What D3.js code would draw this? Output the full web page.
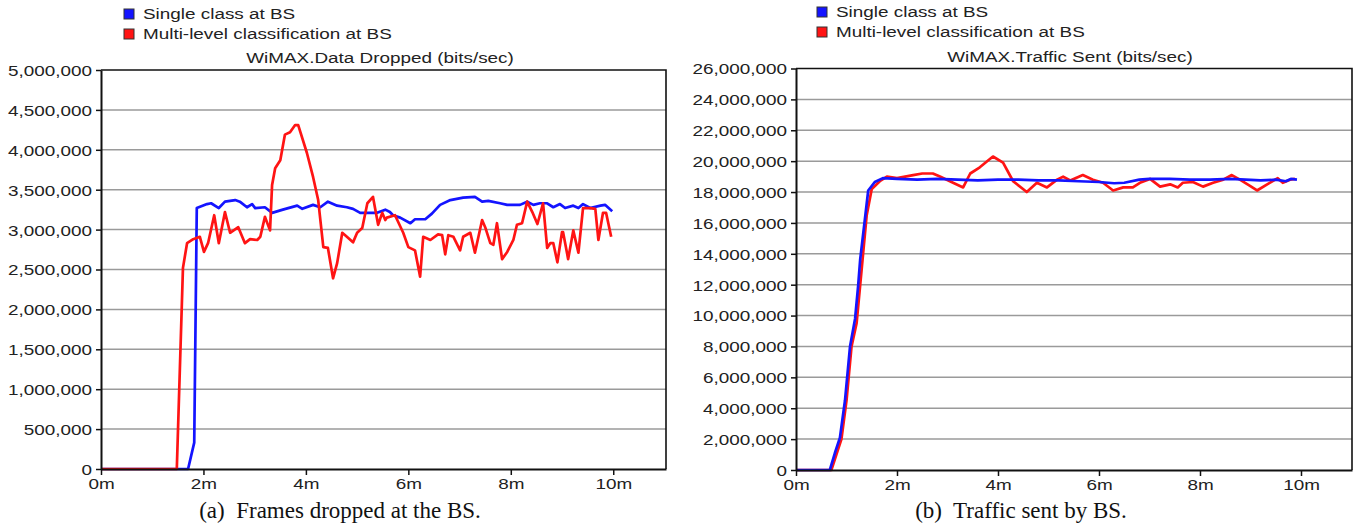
<!DOCTYPE html>
<html><head><meta charset="utf-8">
<script src="https://cdn.jsdelivr.net/npm/d3@7"></script>
<style>body{margin:0;background:#fff} svg{display:block}</style>
</head><body><svg id="c" width="1358" height="529"></svg>
<script>
// ---------- data ----------
const seriesNames = ["Single class at BS", "Multi-level classification at BS"];
const seriesColors = ["#1414ff", "#ff1414"];
const xTickValues = [0, 2, 4, 6, 8, 10];
const xTickLabels = ["0m", "2m", "4m", "6m", "8m", "10m"];

const droppedTicks = [0, 500000, 1000000, 1500000, 2000000, 2500000, 3000000, 3500000, 4000000, 4500000, 5000000];
const sentTicks = [0, 2000000, 4000000, 6000000, 8000000, 10000000, 12000000, 14000000, 16000000, 18000000, 20000000, 22000000, 24000000, 26000000];

// [minutes, bits/sec]
const droppedSingle = [[0,0],[1.70,0],[1.82,0.33e6],[1.87,3.27e6],[2.07,3.32e6],[2.15,3.33e6],[2.30,3.27e6],[2.42,3.35e6],[2.52,3.36e6],[2.62,3.37e6],[2.71,3.35e6],[2.85,3.28e6],[2.95,3.32e6],[3.01,3.27e6],[3.20,3.28e6],[3.34,3.21e6],[3.55,3.25e6],[3.83,3.30e6],[3.93,3.26e6],[4.14,3.31e6],[4.28,3.28e6],[4.43,3.35e6],[4.61,3.30e6],[4.80,3.28e6],[4.92,3.26e6],[5.06,3.21e6],[5.39,3.21e6],[5.55,3.25e6],[5.64,3.22e6],[5.70,3.18e6],[5.84,3.15e6],[6.04,3.08e6],[6.13,3.13e6],[6.33,3.13e6],[6.46,3.20e6],[6.62,3.31e6],[6.82,3.37e6],[7.07,3.40e6],[7.30,3.41e6],[7.44,3.35e6],[7.56,3.36e6],[7.79,3.33e6],[7.93,3.31e6],[8.18,3.31e6],[8.32,3.35e6],[8.44,3.31e6],[8.57,3.33e6],[8.71,3.33e6],[8.83,3.28e6],[8.96,3.32e6],[9.06,3.27e6],[9.22,3.30e6],[9.32,3.27e6],[9.41,3.32e6],[9.55,3.27e6],[9.75,3.30e6],[9.84,3.31e6],[9.98,3.23e6]];

const droppedMulti = [[0,0],[1.48,0],[1.60,2.52e6],[1.68,2.83e6],[1.80,2.88e6],[1.93,2.91e6],[2.01,2.72e6],[2.09,2.83e6],[2.21,3.18e6],[2.30,2.83e6],[2.42,3.22e6],[2.52,2.96e6],[2.68,3.03e6],[2.81,2.83e6],[2.91,2.88e6],[3.05,2.87e6],[3.11,2.91e6],[3.20,3.16e6],[3.30,2.99e6],[3.34,3.56e6],[3.40,3.77e6],[3.50,3.87e6],[3.59,4.19e6],[3.69,4.22e6],[3.79,4.31e6],[3.85,4.31e6],[4.02,3.96e6],[4.14,3.66e6],[4.24,3.37e6],[4.34,2.78e6],[4.43,2.77e6],[4.53,2.39e6],[4.61,2.58e6],[4.71,2.96e6],[4.80,2.91e6],[4.92,2.84e6],[5.00,2.96e6],[5.10,3.02e6],[5.20,3.33e6],[5.31,3.41e6],[5.41,3.06e6],[5.49,3.21e6],[5.55,3.12e6],[5.58,3.15e6],[5.74,3.18e6],[5.90,2.96e6],[6.00,2.78e6],[6.13,2.74e6],[6.23,2.41e6],[6.29,2.91e6],[6.43,2.87e6],[6.58,2.94e6],[6.66,2.93e6],[6.72,2.69e6],[6.78,2.93e6],[6.88,2.91e6],[7.01,2.74e6],[7.07,2.91e6],[7.21,2.96e6],[7.30,2.71e6],[7.44,3.12e6],[7.50,3.03e6],[7.60,2.83e6],[7.66,2.81e6],[7.73,3.08e6],[7.83,2.63e6],[7.93,2.72e6],[8.05,2.87e6],[8.12,3.06e6],[8.22,3.08e6],[8.32,3.35e6],[8.42,3.22e6],[8.52,3.07e6],[8.63,3.33e6],[8.71,2.77e6],[8.77,2.83e6],[8.83,2.83e6],[8.91,2.59e6],[9.00,2.97e6],[9.02,2.97e6],[9.12,2.63e6],[9.22,2.99e6],[9.32,2.71e6],[9.41,3.27e6],[9.55,3.27e6],[9.65,3.26e6],[9.71,2.87e6],[9.80,3.21e6],[9.86,3.21e6],[9.96,2.91e6]];

const sentSingle = [[0,0],[0.67,0],[0.77,1.1e6],[0.87,2.1e6],[0.97,4.5e6],[1.07,8.0e6],[1.17,9.8e6],[1.23,11.9e6],[1.27,13.6e6],[1.37,16.4e6],[1.43,18.1e6],[1.56,18.65e6],[1.72,18.9e6],[2.0,18.85e6],[2.4,18.8e6],[2.8,18.85e6],[3.2,18.8e6],[3.6,18.75e6],[4.0,18.8e6],[4.4,18.8e6],[4.8,18.75e6],[5.2,18.75e6],[5.6,18.7e6],[6.0,18.65e6],[6.3,18.57e6],[6.5,18.6e6],[6.8,18.8e6],[7.0,18.85e6],[7.4,18.85e6],[7.8,18.8e6],[8.2,18.8e6],[8.6,18.85e6],[8.9,18.8e6],[9.2,18.75e6],[9.5,18.8e6],[9.7,18.7e6],[9.8,18.85e6],[9.92,18.8e6]];

const sentMulti = [[0,0],[0.70,0],[0.80,1.0e6],[0.90,2.0e6],[1.00,4.5e6],[1.10,8.0e6],[1.20,9.5e6],[1.30,13.0e6],[1.40,16.5e6],[1.50,18.2e6],[1.66,18.7e6],[1.80,19.0e6],[2.0,18.9e6],[2.32,19.1e6],[2.5,19.2e6],[2.71,19.2e6],[2.85,19.0e6],[3.11,18.6e6],[3.31,18.3e6],[3.45,19.2e6],[3.64,19.6e6],[3.90,20.3e6],[4.10,19.9e6],[4.30,18.7e6],[4.57,18.0e6],[4.77,18.6e6],[4.97,18.3e6],[5.17,18.8e6],[5.29,19.0e6],[5.43,18.75e6],[5.68,19.1e6],[5.88,18.8e6],[6.08,18.6e6],[6.28,18.1e6],[6.48,18.3e6],[6.67,18.3e6],[6.81,18.6e6],[7.01,18.85e6],[7.21,18.35e6],[7.41,18.5e6],[7.56,18.3e6],[7.66,18.6e6],[7.86,18.65e6],[8.06,18.35e6],[8.26,18.6e6],[8.46,18.8e6],[8.63,19.1e6],[8.79,18.8e6],[8.99,18.4e6],[9.13,18.1e6],[9.33,18.5e6],[9.54,18.9e6],[9.64,18.6e6],[9.78,18.8e6],[9.88,18.85e6]];

// ---------- drawing ----------
const svg = d3.select("#c");
const FONT = "'Liberation Sans', Arial, sans-serif";
const FS = 15, SX = 1.26;

function drawChart(o) {
  const g = svg.append("g");
  const x = d3.scaleLinear().domain([0, o.xMax]).range([o.left, o.right]);
  const y = d3.scaleLinear().domain([0, o.yMax]).range([o.bottom, o.top]);

  // gridlines
  g.append("g").selectAll("line").data(o.yTicks.slice(1, -1)).join("line")
    .attr("x1", o.left).attr("x2", o.right)
    .attr("y1", d => y(d)).attr("y2", d => y(d))
    .attr("stroke", "#9a9a9a").attr("stroke-width", 1.5);

  // frame top/right
  g.append("path").attr("d", `M${o.left},${o.top}H${o.right}V${o.bottom}`)
    .attr("fill", "none").attr("stroke", "#111").attr("stroke-width", 1.6);

  // lines
  const line = d3.line().x(d => x(d[0])).y(d => y(d[1]));
  const order = o.blueOnTop ? [1, 0] : [0, 1];
  const series = [o.single, o.multi];
  order.forEach(i => {
    g.append("path").datum(series[i]).attr("d", line).attr("fill", "none")
      .attr("stroke", seriesColors[i]).attr("stroke-width", 2.7).attr("stroke-linejoin", "round");
  });

  // axes
  const ya = g.append("g").attr("transform", `translate(${o.left},0)`)
    .call(d3.axisLeft(y).tickValues(o.yTicks).tickFormat(d3.format(",")).tickSize(5).tickSizeOuter(0));
  const xa = g.append("g").attr("transform", `translate(0,${o.bottom})`)
    .call(d3.axisBottom(x).tickValues(xTickValues).tickFormat((d, i) => xTickLabels[i]).tickSize(6).tickSizeOuter(0));
  [ya, xa].forEach(a => {
    a.select(".domain").attr("stroke", "#111").attr("stroke-width", 2);
    a.selectAll(".tick line").attr("stroke", "#111").attr("stroke-width", 1.5);
    a.selectAll("text").attr("font-family", FONT).attr("font-size", FS).attr("fill", "#222");
  });
  ya.selectAll("text").attr("x", -9 / SX).attr("dy", "0.36em").attr("transform", `scale(${SX},1)`);
  xa.selectAll("text").attr("y", 9).attr("dy", "0.75em").attr("transform", `scale(${SX},1)`);

  // title
  g.append("text").attr("transform", `translate(${o.titleX},${o.titleY}) scale(${SX},1)`)
    .attr("text-anchor", "middle").attr("font-family", FONT).attr("font-size", FS).attr("fill", "#222")
    .text(o.title);

  // legend
  seriesNames.forEach((n, i) => {
    const ly = o.legendY + i * 20;
    g.append("rect").attr("x", o.legendX).attr("y", ly - 5).attr("width", 10).attr("height", 10)
      .attr("fill", seriesColors[i]).attr("stroke", "#333").attr("stroke-width", 1);
    g.append("text").attr("transform", `translate(${o.legendX + 19},${ly + 5}) scale(${SX},1)`)
      .attr("font-family", FONT).attr("font-size", FS).attr("fill", "#222").text(n);
  });

  // caption
  g.append("text").attr("x", o.captionX).attr("y", 518).attr("text-anchor", "middle")
    .attr("font-family", "'Liberation Serif', 'Times New Roman', serif").attr("font-size", 23).attr("fill", "#111")
    .attr("xml:space", "preserve").text(o.caption);
}

drawChart({
  left: 101, right: 666, top: 70, bottom: 469, xMax: 11.03, yMax: 5000000,
  yTicks: droppedTicks, single: droppedSingle, multi: droppedMulti,
  title: "WiMAX.Data Dropped (bits/sec)", titleX: 380, titleY: 63,
  legendX: 124, legendY: 14, caption: "(a)  Frames dropped at the BS.", captionX: 340
});
drawChart({
  left: 796, right: 1352, top: 68.5, bottom: 470, xMax: 11.01, yMax: 26000000,
  yTicks: sentTicks, single: sentSingle, multi: sentMulti, blueOnTop: true,
  title: "WiMAX.Traffic Sent (bits/sec)", titleX: 1070, titleY: 62,
  legendX: 817, legendY: 12, caption: "(b)  Traffic sent by BS.", captionX: 1021
});
</script></body></html>
